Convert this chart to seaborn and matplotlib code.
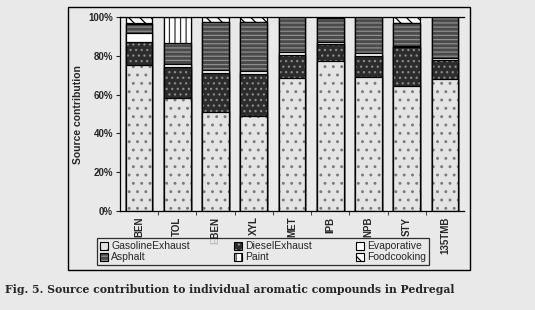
import numpy as np
import matplotlib
matplotlib.use("Agg")
import matplotlib.pyplot as plt
import matplotlib.colors as mcolors
from matplotlib.patches import Rectangle, Patch
import pandas as pd
import seaborn as sns

# Data (percent of each compound)
compounds = ["BEN", "TOL", "EBEN", "XYL", "MET", "IPB", "NPB", "STY", "135TMB"]
gasoline_exhaust = [75.0, 58.0, 51.0, 49.0, 68.5, 77.5, 69.0, 64.5, 68.0]
diesel_exhaust = [12.0, 16.0, 20.0, 21.5, 12.0, 8.5, 11.0, 20.0, 10.0]
evaporative = [4.5, 1.5, 1.5, 1.5, 1.2, 1.2, 1.6, 0.5, 1.0]
asphalt = [5.0, 11.0, 25.0, 25.5, 18.3, 12.5, 18.4, 12.0, 21.0]
paint = [0.5, 13.5, 0.0, 0.0, 0.0, 0.0, 0.0, 0.0, 0.0]
foodcooking = [3.0, 0.0, 2.5, 2.5, 0.0, 0.3, 0.0, 3.0, 0.0]

sources = ["GasolineExhaust", "DieselExhaust", "Evaporative", "Asphalt", "Paint", "Foodcooking"]
values = [gasoline_exhaust, diesel_exhaust, evaporative, asphalt, paint, foodcooking]

# face colour, hatch, hatch colour
styles = {
    "GasolineExhaust": ("#e4e4e4", "..", "#7a7a7a"),
    "DieselExhaust": ("#2c2c2c", "...", "#8a8a8a"),
    "Evaporative": ("#ffffff", "", "#000000"),
    "Asphalt": ("#4a4a4a", "----", "#8e8e8e"),
    "Paint": ("#ffffff", "|||", "#333333"),
    "Foodcooking": ("#ffffff", "\\\\\\", "#000000"),
}

df = pd.DataFrame(dict(zip(sources, values)), index=compounds)
cum = df.cumsum(axis=1)

sns.set_style("ticks")
plt.rcParams["font.family"] = ["Liberation Sans", "DejaVu Sans"]
plt.rcParams["hatch.linewidth"] = 0.9
bg = "#e9e9e9"

fig = plt.figure(figsize=(5.35, 3.1), dpi=100, facecolor=bg)
ax = fig.add_axes([0.2243, 0.3194, 0.643, 0.626])
ax.set_facecolor(bg)

# draw cumulative bars from the top down so each segment overlays the next
for src in reversed(sources):
    n_before = len(ax.patches)
    face, hatch, hcol = styles[src]
    sns.barplot(x=compounds, y=cum[src].values, color=face, width=0.7,
                saturation=1, ax=ax, zorder=2)
    for p in ax.patches[n_before:]:
        p.set_facecolor(face)
        p.set_edgecolor("black")
        p.set_linewidth(0.9)
        p.set_hatch(hatch)
        p._hatch_color = mcolors.to_rgba(hcol)

ax.set_ylim(0, 100)
ax.set_xlim(-0.5, len(compounds) - 0.5)
ax.set_yticks(np.arange(0, 101, 20))
ax.set_yticklabels([f"{v}%" for v in range(0, 101, 20)], fontsize=7, fontweight="bold")
ax.set_xticks(range(len(compounds)))
ax.set_xticklabels(compounds, rotation=90, fontsize=7, fontweight="bold")
ax.tick_params(axis="x", length=0, pad=4)
ax.set_xticks(np.arange(0.5, len(compounds) - 0.5, 1), minor=True)
ax.tick_params(axis="x", which="minor", length=3, direction="out")
ax.tick_params(axis="y", length=3, direction="out", pad=2)
ax.set_ylabel("")
for side in ["left", "bottom", "top"]:
    ax.spines[side].set_visible(True)
    ax.spines[side].set_color("black")
    ax.spines[side].set_linewidth(0.9)
ax.spines["right"].set_visible(False)

fig.text(0.146, 0.63, "Source contribution", rotation=90, ha="center", va="center",
         fontsize=7.5, fontweight="bold")

# outer chart frame
fig.patches.append(Rectangle((0.127, 0.129), 0.752, 0.848, transform=fig.transFigure,
                             fill=False, edgecolor="black", linewidth=1.0))

# legend, filled row by row like the original
order = ["GasolineExhaust", "Asphalt", "DieselExhaust", "Paint", "Evaporative", "Foodcooking"]
handles = []
for src in order:
    face, hatch, hcol = styles[src]
    h = Patch(facecolor=face, edgecolor="black", hatch=hatch, linewidth=0.8, label=src)
    h._hatch_color = mcolors.to_rgba(hcol)
    handles.append(h)
leg = fig.legend(handles=handles, loc="upper left", bbox_to_anchor=(0.181, 0.232),
                 ncol=3, fontsize=7.5, frameon=True, fancybox=False, borderpad=0.3,
                 handlelength=0.8, handleheight=0.8, handletextpad=0.3,
                 columnspacing=4.2, labelspacing=0.1, borderaxespad=0)
leg.get_frame().set_edgecolor("black")
leg.get_frame().set_facecolor(bg)
leg.get_frame().set_linewidth(0.9)

fig.text(0.01, 0.065, "Fig. 5. Source contribution to individual aromatic compounds in Pedregal",
         family=["DejaVu Serif"], fontweight="bold", fontsize=7.8, va="center", ha="left")

fig.savefig("out.png", dpi=100, facecolor=bg)
